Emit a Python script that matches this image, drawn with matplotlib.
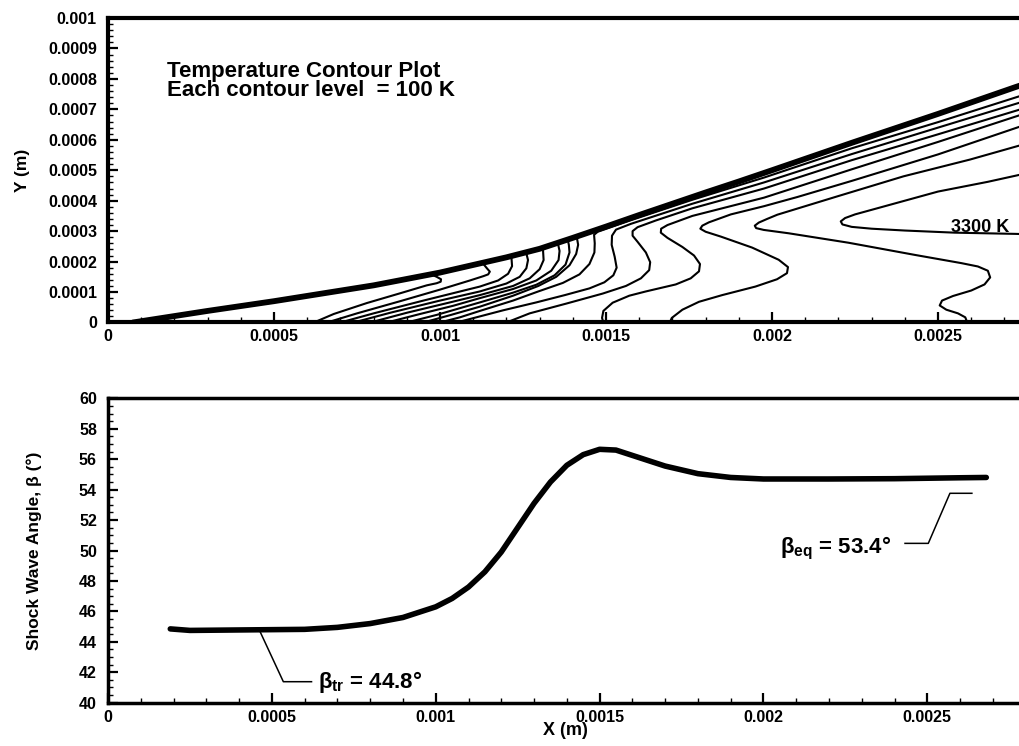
import matplotlib
matplotlib.use("Agg")
import matplotlib.pyplot as plt
from matplotlib.ticker import MultipleLocator, FuncFormatter

plt.rcParams['font.family'] = ['Liberation Sans', 'DejaVu Sans']
plt.rcParams['font.weight'] = 'bold'
plt.rcParams['axes.labelweight'] = 'bold'

# ---------------- top panel: temperature contours ----------------
# points are (x, y) in units of 1e-4 m
shock = [(0.75, 0), (3.0, 0.38), (5, 0.70), (8, 1.22), (10, 1.64), (12, 2.14), (13, 2.42),
         (14, 2.78), (15, 3.15), (16, 3.53), (17, 3.9), (18, 4.27), (19, 4.63), (20, 5.0),
         (22.4, 5.9), (25, 6.85), (27.33, 7.73), (28, 7.97)]

line_c1 = [(6.2, 0), (6.8, 0.28), (7.8, 0.64), (8.8, 0.96), (9.6, 1.22), (9.9, 1.29),
           (10.02, 1.34), (10.03, 1.42), (9.9, 1.5), (9.75, 1.57)]
line_c2 = [(6.6, 0), (7.5, 0.3), (8.8, 0.7), (10.0, 1.08), (10.9, 1.38), (11.3, 1.52),
           (11.45, 1.58), (11.5, 1.67), (11.42, 1.77), (11.3, 1.93)]
line_c3 = [(7.0, 0), (8.0, 0.3), (9.5, 0.72), (11.2, 1.18), (11.75, 1.38), (12.05, 1.6),
           (12.17, 1.85), (12.15, 2.15)]
line_c4 = [(7.4, 0), (8.5, 0.32), (10.0, 0.72), (11.2, 1.02), (12.0, 1.28), (12.4, 1.5),
           (12.6, 1.78), (12.65, 2.05), (12.6, 2.27)]
line_c5 = [(7.9, 0), (9.0, 0.32), (10.3, 0.66), (11.2, 0.9), (12.2, 1.2), (12.7, 1.45),
           (13.0, 1.75), (13.12, 2.05), (13.1, 2.42)]
line_c6 = [(8.4, 0), (9.4, 0.28), (10.4, 0.55), (11.2, 0.8), (12.2, 1.1), (12.9, 1.38),
           (13.35, 1.7), (13.57, 2.05), (13.6, 2.35), (13.55, 2.6)]
line_c7 = [(9.0, 0), (9.9, 0.25), (11.2, 0.66), (12.2, 0.98), (12.9, 1.24), (13.45, 1.55),
           (13.78, 1.9), (13.9, 2.3), (13.88, 2.55), (13.85, 2.7)]
line_c8 = [(9.5, 0), (10.3, 0.24), (11.2, 0.52), (12.2, 0.88), (12.96, 1.2), (13.5, 1.5),
           (13.9, 1.88), (14.1, 2.25), (14.16, 2.55), (14.12, 2.8)]
line_c9 = [(10.0, 0), (10.6, 0.17), (11.2, 0.38), (12.2, 0.72), (12.96, 1.02), (13.7, 1.3),
           (14.2, 1.58), (14.5, 1.92), (14.65, 2.3), (14.66, 2.6), (14.64, 2.88), (14.75, 2.98),
           (15.75, 3.36), (17.6, 4.03), (19.76, 4.76), (22.4, 5.72), (25, 6.58), (28, 7.62)]
line_c10 = [(10.5, 0), (11.2, 0.2), (11.9, 0.4), (12.9, 0.66), (13.76, 0.9), (14.5, 1.12),
            (14.95, 1.32), (15.22, 1.55), (15.32, 1.8), (15.26, 2.16), (15.17, 2.55),
            (15.18, 2.85), (15.3, 3.05), (15.75, 3.24), (17.6, 3.9), (19.76, 4.6),
            (22.4, 5.53), (25, 6.4), (28, 7.4)]
line_c11 = [(12.0, 0), (12.7, 0.3), (13.8, 0.62), (14.9, 0.95), (15.6, 1.2), (16.05, 1.45),
            (16.3, 1.72), (16.33, 1.98), (16.2, 2.3), (15.95, 2.65), (15.8, 2.85), (15.8, 3.0),
            (15.95, 3.13), (16.5, 3.35), (17.6, 3.75), (19.76, 4.4), (22.4, 5.33), (25, 6.18),
            (28, 7.17)]
line_c12 = [(14.92, 0), (14.88, 0.15), (14.92, 0.38), (15.2, 0.65), (15.7, 0.88), (16.2, 1.02),
            (17.1, 1.25), (17.55, 1.45), (17.8, 1.68), (17.83, 1.92), (17.65, 2.2),
            (17.3, 2.48), (16.85, 2.78), (16.65, 2.95), (16.66, 3.08), (16.85, 3.2),
            (17.6, 3.5), (19.76, 4.1), (22.4, 5.03), (25, 5.93), (28, 7.0)]
line_c13 = [(16.92, 0), (16.98, 0.15), (17.3, 0.42), (17.8, 0.68), (18.5, 0.9), (19.5, 1.18),
            (20.15, 1.42), (20.45, 1.62), (20.48, 1.82), (20.2, 2.06), (19.4, 2.46),
            (18.46, 2.82), (18.0, 2.98), (17.84, 3.08), (17.9, 3.18), (18.1, 3.29),
            (18.76, 3.55), (19.76, 3.82), (20.76, 4.12), (22.4, 4.65), (25, 5.52), (28, 6.63)]
line_c14 = [(25.88, 0), (25.82, 0.17), (25.6, 0.3), (25.25, 0.42), (25.05, 0.56), (25.12, 0.72),
            (25.45, 0.87), (26.0, 1.05), (26.4, 1.25), (26.57, 1.48), (26.5, 1.7),
            (26.2, 1.84), (25.7, 1.95), (24.3, 2.22), (22.3, 2.62), (20.5, 2.93),
            (19.75, 3.04), (19.52, 3.1), (19.48, 3.18), (19.6, 3.28), (19.85, 3.4),
            (20.16, 3.54), (21.96, 4.14), (23.96, 4.8), (25.96, 5.35), (28, 5.98)]
line_3300 = [(28, 2.89), (27.33, 2.91), (25.5, 2.95), (24.0, 3.02), (23.0, 3.08), (22.4, 3.14),
             (22.12, 3.22), (22.07, 3.32), (22.2, 3.43), (22.5, 3.55), (23.5, 3.85), (25, 4.3),
             (26.5, 4.62), (28, 4.98)]

contour_lines = [line_c1, line_c2, line_c3, line_c4, line_c5, line_c6, line_c7, line_c8,
                 line_c9, line_c10, line_c11, line_c12, line_c13, line_c14, line_3300]
unit = 1e-4

# ---------------- bottom panel: shock wave angle ----------------
beta_x = [0.00019, 0.00025, 0.0004, 0.0006, 0.0007, 0.0008, 0.0009, 0.001, 0.00105, 0.0011,
          0.00115, 0.0012, 0.00125, 0.0013, 0.00135, 0.0014, 0.00145, 0.0015, 0.00155, 0.0016,
          0.00165, 0.0017, 0.0018, 0.0019, 0.002, 0.0022, 0.0024, 0.0026, 0.00268]
beta_deg = [44.85, 44.75, 44.78, 44.82, 44.95, 45.2, 45.6, 46.3, 46.85, 47.6,
            48.6, 49.9, 51.5, 53.1, 54.5, 55.6, 56.3, 56.65, 56.6, 56.25,
            55.9, 55.55, 55.05, 54.8, 54.7, 54.7, 54.72, 54.78, 54.8]

beta_tr_label = r'$\mathregular{β_{tr}}$ = 44.8°'
beta_eq_label = r'$\mathregular{β_{eq}}$ = 53.4°'
tr_leader_x = [0.000464, 0.000535, 0.000621]
tr_leader_y = [44.67, 41.38, 41.38]
eq_leader_x = [0.002432, 0.002503, 0.002569, 0.002636]
eq_leader_y = [50.47, 50.47, 53.76, 53.76]


def fmt(v, _):
    return '%g' % round(v, 7)


fig = plt.figure(figsize=(10.19, 7.46), dpi=100)
ax1 = fig.add_axes([0.106, 0.5677, 0.9123, 0.4082])
ax2 = fig.add_axes([0.106, 0.05804, 0.9005, 0.408])

# top
ax1.plot([p[0] * unit for p in shock], [p[1] * unit for p in shock], color='black', lw=4.2,
         solid_capstyle='round', solid_joinstyle='round')
for line in contour_lines:
    ax1.plot([p[0] * unit for p in line], [p[1] * unit for p in line], color='black', lw=1.5,
             solid_joinstyle='round')
ax1.text(0.000178, 0.000858, 'Temperature Contour Plot\nEach contour level  = 100 K',
         fontsize=16, ha='left', va='top', linespacing=0.83)
ax1.text(0.00254, 0.000296, '3300 K', fontsize=13, ha='left', va='baseline')
ax1.set_xlim(0, 0.0028)
ax1.set_ylim(0, 0.001)
ax1.xaxis.set_major_locator(MultipleLocator(0.0005))
ax1.xaxis.set_minor_locator(MultipleLocator(0.0001))
ax1.yaxis.set_major_locator(MultipleLocator(0.0001))
ax1.yaxis.set_minor_locator(MultipleLocator(0.00002))
ax1.xaxis.set_major_formatter(FuncFormatter(fmt))
ax1.yaxis.set_major_formatter(FuncFormatter(fmt))
ax1.set_ylabel('Y (m)', fontsize=12.5)
ax1.yaxis.set_label_coords(-0.084, 0.5)

# bottom
ax2.plot(beta_x, beta_deg, color='black', lw=4, solid_capstyle='round')
ax2.plot(tr_leader_x, tr_leader_y, color='black', lw=1.1)
ax2.plot(eq_leader_x, eq_leader_y, color='black', lw=1.1)
ax2.text(0.000641, 40.97, beta_tr_label, fontsize=16, ha='left', va='baseline')
ax2.text(0.002051, 49.82, beta_eq_label, fontsize=16, ha='left', va='baseline')
ax2.set_xlim(0, 0.0028)
ax2.set_ylim(40, 60)
ax2.xaxis.set_major_locator(MultipleLocator(0.0005))
ax2.xaxis.set_minor_locator(MultipleLocator(0.0001))
ax2.yaxis.set_major_locator(MultipleLocator(2))
ax2.yaxis.set_minor_locator(MultipleLocator(0.5))
ax2.xaxis.set_major_formatter(FuncFormatter(fmt))
ax2.set_ylabel('Shock Wave Angle, β (°)', fontsize=12.5)
ax2.yaxis.set_label_coords(-0.072, 0.5)
ax2.set_xlabel('X (m)', fontsize=13)
ax2.xaxis.set_label_coords(0.498, -0.062)

for ax, lw in ((ax1, 3.0), (ax2, 2.5)):
    for s in ax.spines.values():
        s.set_linewidth(lw)
    ax.tick_params(which='major', direction='in', length=7, width=1.6, labelsize=11.5,
                   pad=5)
    ax.tick_params(which='minor', direction='in', length=3.5, width=1.0)
    ax.tick_params(axis='y', pad=8)

fig.savefig('out.png', dpi=100)
